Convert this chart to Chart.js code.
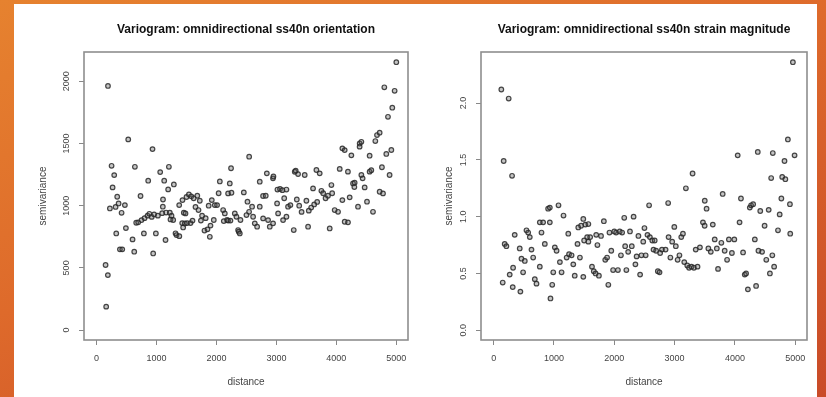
<!DOCTYPE html>
<html>
<head>
<meta charset="utf-8">
<script src="https://cdn.jsdelivr.net/npm/chart.js@4.4.0/dist/chart.umd.min.js"></script>
<style>
    html, body { margin: 0; padding: 0; }
    body {
        width: 826px;
        height: 397px;
        overflow: hidden;
        position: relative;
        background: linear-gradient(160deg, #e6822f 0%, #de6a2b 45%, #c94b28 100%);
    }
    #panel {
        position: absolute;
        left: 14px;
        top: 4px;
        width: 803px;
        height: 400px;
        background: #fff;
    }
    .plot { position: absolute; top: 0; height: 393px; filter: blur(0.75px); }
    #orientBox { left: 0; width: 406px; }
    #strainBox { left: 406px; width: 397px; }
</style>
</head>
<body>
<div id="panel">
    <div class="plot" id="orientBox"><canvas id="orientChart"></canvas></div>
    <div class="plot" id="strainBox"><canvas id="strainChart"></canvas></div>
</div>
<script>
// Empirical variogram, ss40n orientation
const orientDistance = [
    150, 188, 160, 190, 250, 267, 294, 222, 344, 317, 367, 417, 472, 328, 389, 428, 489, 528, 600, 628,
    639, 661, 694, 733, 750, 789, 800, 850, 880, 933, 944, 920, 960, 989, 1022, 1061, 861, 1094, 1108, 1105,
    1128, 1150, 1160, 1194, 1206, 1222, 1233, 1250, 1278, 1289, 1317, 1333, 1380, 1378, 1433, 1444, 1428, 1455, 1472, 1483,
    1500, 1510, 1540, 1567, 1580, 1600, 1620, 1650, 1680, 1700, 1722, 1740, 1760, 1800, 1820, 1850, 1870, 1889, 1900, 1922,
    1955, 1972, 2010, 2036, 2056, 2111, 2122, 2139, 2177, 2194, 2194, 2233, 2243, 2250, 2222, 2306, 2333, 2361, 2372, 2389,
    2400, 2456, 2500, 2517, 2545, 2544, 2594, 2611, 2639, 2678, 2722, 2722, 2777, 2778, 2822, 2840, 2861, 2889, 2943, 2944,
    2950, 3011, 3017, 3028, 3060, 3100, 3111, 3130, 3167, 3167, 3194, 3233, 3289, 3306, 3322, 3340, 3361, 3380, 3420, 3472,
    3500, 3528, 3540, 3580, 3611, 3630, 3667, 3680, 3722, 3750, 3780, 3820, 3860, 3889, 3917, 3930, 3972, 4028, 4056, 4100,
    4100, 4139, 4139, 4193, 4194, 4222, 4250, 4278, 4300, 4305, 4361, 4389, 4388, 4417, 4417, 4438, 4472, 4511, 4555, 4555,
    4583, 4611, 4650, 4678, 4722, 4722, 4760, 4778, 4800, 4833, 4861, 4888, 4917, 4933, 4972, 5000
];
const orientSemivariance = [
    523, 442, 188, 1963, 1321, 1147, 1246, 978, 1072, 990, 1018, 943, 1005, 777, 649, 649, 820, 1533, 729, 630,
    1313, 863, 866, 1078, 884, 777, 900, 920, 935, 1455, 616, 910, 930, 777, 920, 1270, 1201, 940, 1050, 992,
    1201, 724, 945, 1131, 1313, 944, 890, 920, 885, 1171, 778, 764, 755, 1005, 1045, 825, 860, 944, 857, 938,
    1070, 860, 1090, 860, 1075, 880, 1060, 990, 1080, 965, 1040, 880, 920, 800, 900, 810, 1000, 750, 840, 1045,
    885, 1005, 1005, 1100, 1195, 965, 876, 938, 885, 880, 1099, 880, 1301, 1104, 1179, 938, 911, 804, 791, 777,
    885, 1107, 925, 1032, 1394, 951, 992, 911, 858, 831, 992, 1193, 1078, 898, 1080, 1260, 884, 831, 1220, 858,
    1235, 1018, 1130, 938, 1135, 1125, 884, 1060, 911, 1130, 992, 1005, 804, 1273, 1282, 1050, 1254, 1000, 950, 1247,
    1040, 831, 960, 985, 1139, 1010, 1287, 1030, 1260, 1120, 1100, 1060, 1080, 817, 1166, 1100, 965, 951, 1296, 1045,
    1461, 1447, 871, 1274, 866, 1067, 1405, 1179, 1150, 1185, 992, 1500, 1475, 1514, 1247, 1220, 1147, 1032, 1402, 1274,
    1286, 951, 1520, 1568, 1587, 1112, 1309, 1099, 1952, 1416, 1715, 1247, 1448, 1788, 1924, 2154
];

// Empirical variogram, ss40n strain magnitude
const strainDistance = [
    127, 249, 166, 305, 150, 183, 211, 266, 322, 316, 349, 432, 443, 461, 488, 516, 544, 572, 599, 627,
    655, 682, 710, 765, 765, 793, 820, 848, 903, 931, 931, 942, 971, 988, 1014, 1043, 1075, 1098, 1126, 1158,
    1210, 1237, 1250, 1292, 1320, 1344, 1390, 1403, 1430, 1450, 1486, 1486, 1500, 1520, 1550, 1570, 1570, 1600, 1630, 1660,
    1690, 1700, 1720, 1745, 1780, 1827, 1850, 1880, 1901, 1920, 1950, 1980, 2000, 2030, 2060, 2090, 2110, 2130, 2165, 2180,
    2200, 2230, 2260, 2290, 2320, 2350, 2370, 2400, 2428, 2450, 2480, 2500, 2520, 2550, 2577, 2590, 2630, 2650, 2670, 2694,
    2722, 2750, 2760, 2790, 2850, 2893, 2900, 2930, 2960, 2995, 3020, 3050, 3080, 3110, 3138, 3160, 3187, 3210, 3240, 3280,
    3298, 3320, 3350, 3380, 3420, 3470, 3498, 3500, 3530, 3560, 3600, 3633, 3665, 3700, 3720, 3775, 3797, 3830, 3870, 3900,
    3950, 3990, 4046, 4077, 4100, 4135, 4163, 4185, 4215, 4247, 4268, 4302, 4330, 4351, 4379, 4390, 4420, 4450, 4492, 4520,
    4560, 4580, 4601, 4620, 4628, 4650, 4714, 4742, 4770, 4784, 4822, 4836, 4878, 4912, 4917, 4961, 4989
];
const strainSemivariance = [
    2.12, 2.04, 1.49, 1.36, 0.42, 0.76, 0.74, 0.49, 0.55, 0.38, 0.84, 0.72, 0.34, 0.63, 0.51, 0.61, 0.88, 0.86, 0.82, 0.71,
    0.64, 0.45, 0.41, 0.95, 0.56, 0.86, 0.95, 0.76, 1.07, 1.08, 0.95, 0.28, 0.40, 0.51, 0.73, 0.70, 1.10, 0.60, 0.51, 1.01,
    0.64, 0.85, 0.67, 0.66, 0.58, 0.48, 0.76, 0.905, 0.64, 0.92, 0.47, 0.98, 0.79, 0.93, 0.82, 0.935, 0.78, 0.82, 0.56, 0.52,
    0.50, 0.84, 0.75, 0.48, 0.83, 0.96, 0.62, 0.64, 0.40, 0.86, 0.70, 0.53, 0.87, 0.86, 0.53, 0.87, 0.66, 0.86, 0.99, 0.74,
    0.53, 0.69, 0.87, 0.74, 1.00, 0.58, 0.65, 0.83, 0.49, 0.66, 0.78, 0.90, 0.66, 0.84, 1.10, 0.82, 0.79, 0.71, 0.79, 0.70,
    0.52, 0.51, 0.68, 0.71, 0.71, 1.12, 0.82, 0.64, 0.78, 0.91, 0.74, 0.62, 0.66, 0.82, 0.85, 0.60, 1.25, 0.57, 0.55, 0.56,
    1.38, 0.55, 0.71, 0.56, 0.73, 0.95, 0.92, 1.14, 1.07, 0.72, 0.69, 0.93, 0.80, 0.72, 0.54, 0.77, 1.20, 0.70, 0.62, 0.80,
    0.68, 0.80, 1.54, 0.95, 1.16, 0.685, 0.49, 0.50, 0.36, 1.08, 1.10, 1.11, 0.80, 0.39, 1.57, 0.70, 1.05, 0.69, 0.92, 0.62,
    1.06, 0.50, 1.34, 0.66, 1.56, 0.56, 0.88, 1.02, 1.16, 1.35, 1.49, 1.33, 1.68, 1.11, 0.85, 2.36, 1.54
];

const distanceTicks = [0, 1000, 2000, 3000, 4000, 5000];
const orientTicks = [0, 500, 1000, 1500, 2000];
const orientTickLabels = ['0', '500', '1000', '1500', '2000'];
const strainTicks = [0, 0.5, 1.0, 1.5, 2.0];
const strainTickLabels = ['0.0', '0.5', '1.0', '1.5', '2.0'];

const FONT = '"Liberation Sans", Arial, sans-serif';

// frame around the plotting region
const plotFrame = {
    id: 'plotFrame',
    beforeDatasetsDraw(chart) {
        const { ctx, chartArea: a } = chart;
        ctx.save();
        ctx.strokeStyle = '#8e8e8e';
        ctx.lineWidth = 1.6;
        ctx.strokeRect(a.left, a.top, a.right - a.left, a.bottom - a.top);
        ctx.restore();
    }
};

// y tick labels written parallel to the axis
const sidewaysYTicks = {
    id: 'sidewaysYTicks',
    afterDraw(chart, args, opts) {
        const { ctx, chartArea, scales: { y } } = chart;
        ctx.save();
        ctx.font = '9px ' + FONT;
        ctx.fillStyle = '#444';
        ctx.textAlign = 'center';
        ctx.textBaseline = 'middle';
        y.ticks.forEach((t, i) => {
            ctx.save();
            ctx.translate(chartArea.left - 17, y.getPixelForValue(t.value));
            ctx.rotate(-Math.PI / 2);
            ctx.fillText(opts.labels[i], 0, 0);
            ctx.restore();
        });
        ctx.restore();
    }
};

function makeVariogram(canvasId, title, dist, gamma, yRange, yTicks, yLabels, yWidth, padRight) {
    const points = dist.map((d, i) => ({ x: d, y: gamma[i] }));
    return new Chart(document.getElementById(canvasId), {
        type: 'scatter',
        data: {
            datasets: [{
                data: points,
                pointStyle: 'circle',
                pointRadius: 2.3,
                borderWidth: 1.2,
                borderColor: 'rgba(40, 40, 40, 0.85)',
                backgroundColor: 'rgba(90, 90, 90, 0.35)'
            }]
        },
        plugins: [plotFrame, sidewaysYTicks],
        options: {
            responsive: true,
            maintainAspectRatio: false,
            animation: false,
            layout: { padding: { left: 0, right: padRight, top: 0, bottom: 0 } },
            plugins: {
                legend: { display: false },
                tooltip: { enabled: false },
                title: {
                    display: true,
                    text: title,
                    fullSize: false,
                    color: '#111',
                    font: { family: FONT, size: 12, weight: 'bold', lineHeight: 1.0 },
                    padding: { top: 20, bottom: 16 }
                },
                sidewaysYTicks: { labels: yLabels }
            },
            scales: {
                x: {
                    type: 'linear',
                    min: -210,
                    max: 5195,
                    afterBuildTicks: s => { s.ticks = distanceTicks.map(v => ({ value: v })); },
                    afterFit: s => { s.height = 57; },
                    border: { display: false },
                    grid: { drawOnChartArea: false, drawTicks: true, tickLength: 5, color: '#888', lineWidth: 1 },
                    ticks: {
                        color: '#444',
                        font: { family: FONT, size: 9 },
                        padding: 8,
                        maxRotation: 0,
                        callback: v => String(v)
                    },
                    title: {
                        display: true,
                        text: 'distance',
                        color: '#444',
                        font: { family: FONT, size: 10 },
                        padding: { top: 0, bottom: 9 }
                    }
                },
                y: {
                    type: 'linear',
                    min: yRange[0],
                    max: yRange[1],
                    afterBuildTicks: s => { s.ticks = yTicks.map(v => ({ value: v })); },
                    afterFit: s => { s.width = yWidth; },
                    border: { display: false },
                    grid: { drawOnChartArea: false, drawTicks: true, tickLength: 5, color: '#888', lineWidth: 1 },
                    ticks: { display: false },
                    title: {
                        display: true,
                        text: 'semivariance',
                        color: '#444',
                        font: { family: FONT, size: 10 },
                        padding: { top: 23, bottom: 0 }
                    }
                }
            }
        }
    });
}

makeVariogram('orientChart', 'Variogram: omnidirectional ss40n orientation',
    orientDistance, orientSemivariance, [-80, 2236], orientTicks, orientTickLabels, 70, 12);
makeVariogram('strainChart', 'Variogram: omnidirectional ss40n strain magnitude',
    strainDistance, strainSemivariance, [-0.086, 2.45], strainTicks, strainTickLabels, 61, 10);
</script>
</body>
</html>
